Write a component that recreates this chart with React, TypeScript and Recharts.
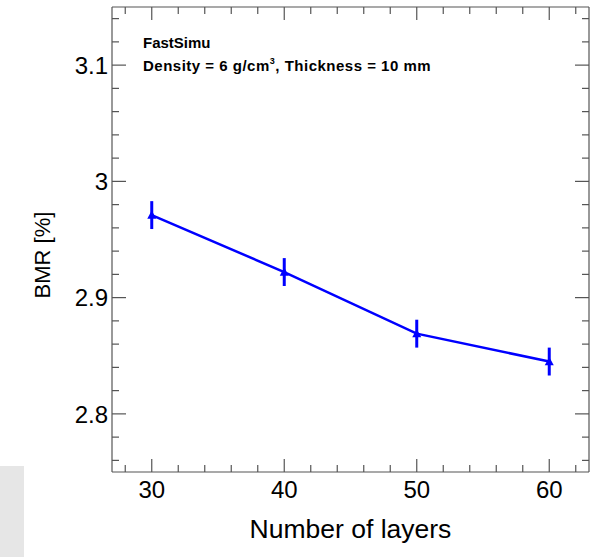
import React from 'react';
import { ComposedChart, Line, XAxis, YAxis, ErrorBar } from 'recharts';

const layers = [30, 40, 50, 60];
const bmr = [2.971, 2.922, 2.869, 2.845];
const bmrErr = [0.012, 0.012, 0.012, 0.012];

const xTicks = [28, 30, 32, 34, 36, 38, 40, 42, 44, 46, 48, 50, 52, 54, 56, 58, 60, 62];
const yTicks = [2.76, 2.78, 2.8, 2.82, 2.84, 2.86, 2.88, 2.9, 2.92, 2.94, 2.96, 2.98, 3.0, 3.02, 3.04, 3.06, 3.08, 3.1, 3.12, 3.14];

const xTitle = 'Number of layers';
const yTitle = 'BMR [%]';
const note1 = 'FastSimu';
const note2a = 'Density = 6 g/cm';
const note2sup = '3';
const note2b = ', Thickness = 10 mm';

const data = layers.map((x, i) => ({ x, y: bmr[i], err: bmrErr[i] }));

const FONT = '"Liberation Sans", Arial, Helvetica, sans-serif';
const FRAME = '#555555';
const BLUE = '#0000ff';

const isMajorX = (v: number) => Math.abs(v % 10) < 1e-6;
const isMajorY = (v: number) => Math.abs(v * 10 - Math.round(v * 10)) < 1e-6;

const BottomTick = (props: any) => {
  const { x, y, payload } = props;
  const v = payload.value;
  const major = isMajorX(v);
  return (
    <g>
      <line x1={x} x2={x} y1={y} y2={y - (major ? 13 : 7)} stroke={FRAME} strokeWidth={1.2} />
      {major && (
        <text x={x} y={y + 26} textAnchor="middle" fontSize={24} fill="#000" fontFamily={FONT}>
          {v}
        </text>
      )}
    </g>
  );
};

const TopTick = (props: any) => {
  const { x, y, payload } = props;
  const major = isMajorX(payload.value);
  return <line x1={x} x2={x} y1={y} y2={y + (major ? 13 : 7)} stroke={FRAME} strokeWidth={1.2} />;
};

const LeftTick = (props: any) => {
  const { x, y, payload } = props;
  const v = payload.value;
  const major = isMajorY(v);
  return (
    <g>
      <line x1={x} x2={x + (major ? 14 : 7)} y1={y} y2={y} stroke={FRAME} strokeWidth={1.2} />
      {major && (
        <text x={x - 4} y={y} dy="0.36em" textAnchor="end" fontSize={24} fill="#000" fontFamily={FONT}>
          {String(Math.round(v * 10) / 10)}
        </text>
      )}
    </g>
  );
};

const RightTick = (props: any) => {
  const { x, y, payload } = props;
  const major = isMajorY(payload.value);
  return <line x1={x} x2={x - (major ? 14 : 7)} y1={y} y2={y} stroke={FRAME} strokeWidth={1.2} />;
};

const TriangleDot = (props: any) => {
  const { cx, cy } = props;
  if (cx == null || cy == null) return null;
  const s = 4.5;
  return <path d={`M${cx},${cy - s} L${cx + s},${cy + s * 0.8} L${cx - s},${cy + s * 0.8} Z`} fill={BLUE} />;
};

export default function App() {
  return (
    <div style={{ position: 'absolute', left: 0, top: 0, width: 603, height: 557, background: '#fff' }}>
      <ComposedChart width={603} height={557} data={data} margin={{ top: 6, right: 13, bottom: 5, left: 12 }}>
        <XAxis
          xAxisId="b"
          dataKey="x"
          type="number"
          domain={[27, 63]}
          ticks={xTicks}
          interval={0}
          orientation="bottom"
          height={80}
          tickSize={0}
          tickMargin={0}
          tickLine={false}
          axisLine={{ stroke: FRAME, strokeWidth: 1.2 }}
          tick={<BottomTick />}
          allowDataOverflow
        />
        <XAxis
          xAxisId="t"
          dataKey="x"
          type="number"
          domain={[27, 63]}
          ticks={xTicks}
          interval={0}
          orientation="top"
          height={1}
          tickSize={0}
          tickMargin={0}
          tickLine={false}
          axisLine={{ stroke: FRAME, strokeWidth: 1.2 }}
          tick={<TopTick />}
          allowDataOverflow
        />
        <YAxis
          yAxisId="l"
          type="number"
          domain={[2.75, 3.15]}
          ticks={yTicks}
          interval={0}
          orientation="left"
          width={100}
          tickSize={0}
          tickMargin={0}
          tickLine={false}
          axisLine={{ stroke: FRAME, strokeWidth: 1.2 }}
          tick={<LeftTick />}
          allowDataOverflow
        />
        <YAxis
          yAxisId="r"
          type="number"
          domain={[2.75, 3.15]}
          ticks={yTicks}
          interval={0}
          orientation="right"
          width={1}
          tickSize={0}
          tickMargin={0}
          tickLine={false}
          axisLine={{ stroke: FRAME, strokeWidth: 1.2 }}
          tick={<RightTick />}
          allowDataOverflow
        />
        <Line
          xAxisId="b"
          yAxisId="l"
          dataKey="y"
          stroke={BLUE}
          strokeWidth={2.5}
          dot={<TriangleDot />}
          activeDot={false}
          isAnimationActive={false}
        >
          <ErrorBar dataKey="err" width={0} stroke={BLUE} strokeWidth={3} direction="y" />
        </Line>
      </ComposedChart>
      <svg
        width={603}
        height={557}
        style={{ position: 'absolute', left: 0, top: 0, pointerEvents: 'none' }}
      >
        <text x={143} y={48} fontSize={15} fontWeight="bold" fontFamily={FONT} fill="#000">
          {note1}
        </text>
        <text x={143} y={71} fontSize={15} fontWeight="bold" fontFamily={FONT} fill="#000" letterSpacing={0.5}>
          {note2a}
          <tspan fontSize={9} dy={-7}>{note2sup}</tspan>
          <tspan dy={7}>{note2b}</tspan>
        </text>
        <text
          x={350.5}
          y={538}
          textAnchor="middle"
          fontSize={26.5}
          fontFamily={FONT}
          fill="#000"
        >
          {xTitle}
        </text>
        <text
          x={0}
          y={0}
          transform="translate(50,255) rotate(-90)"
          textAnchor="middle"
          fontSize={22}
          fontFamily={FONT}
          fill="#000"
        >
          {yTitle}
        </text>
      </svg>
      <div style={{ position: 'absolute', left: 0, top: 466, width: 24, height: 91, background: '#e6e6e6' }} />
    </div>
  );
}
